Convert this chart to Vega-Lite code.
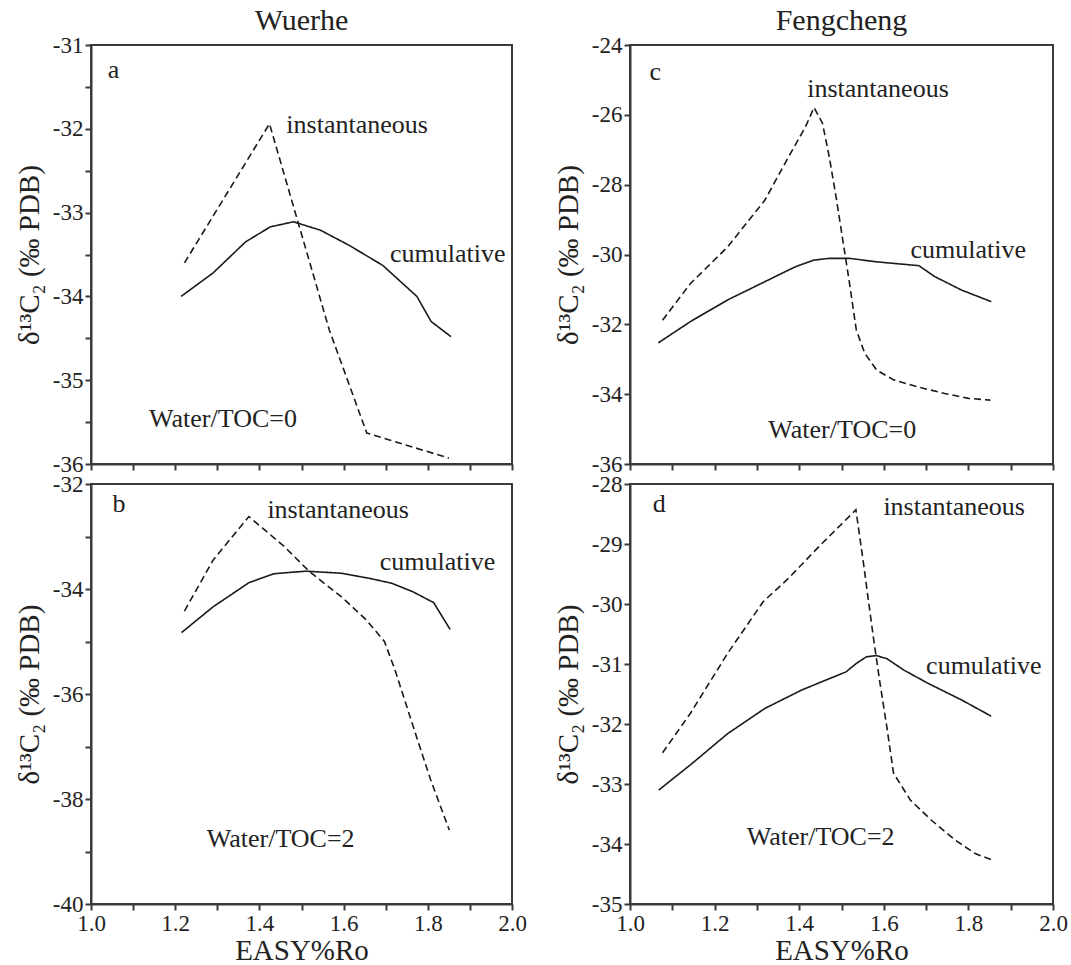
{
  "$schema": "https://vega.github.io/schema/vega-lite/v6.json",
  "background": "white",
  "padding": {"left": 14, "top": 5, "right": 0, "bottom": 0},
  "datasets": {
    "curves": [
      {"panel": "a", "series": "instantaneous", "x": 1.222, "y": -33.60},
      {"panel": "a", "series": "instantaneous", "x": 1.424, "y": -31.94},
      {"panel": "a", "series": "instantaneous", "x": 1.566, "y": -34.40},
      {"panel": "a", "series": "instantaneous", "x": 1.655, "y": -35.63},
      {"panel": "a", "series": "instantaneous", "x": 1.850, "y": -35.93},
      {"panel": "a", "series": "cumulative", "x": 1.214, "y": -34.00},
      {"panel": "a", "series": "cumulative", "x": 1.290, "y": -33.72},
      {"panel": "a", "series": "cumulative", "x": 1.367, "y": -33.35},
      {"panel": "a", "series": "cumulative", "x": 1.426, "y": -33.17},
      {"panel": "a", "series": "cumulative", "x": 1.481, "y": -33.11},
      {"panel": "a", "series": "cumulative", "x": 1.545, "y": -33.21},
      {"panel": "a", "series": "cumulative", "x": 1.613, "y": -33.39},
      {"panel": "a", "series": "cumulative", "x": 1.693, "y": -33.63},
      {"panel": "a", "series": "cumulative", "x": 1.774, "y": -34.00},
      {"panel": "a", "series": "cumulative", "x": 1.808, "y": -34.30},
      {"panel": "a", "series": "cumulative", "x": 1.855, "y": -34.48},

      {"panel": "b", "series": "instantaneous", "x": 1.222, "y": -34.42},
      {"panel": "b", "series": "instantaneous", "x": 1.290, "y": -33.45},
      {"panel": "b", "series": "instantaneous", "x": 1.375, "y": -32.62},
      {"panel": "b", "series": "instantaneous", "x": 1.459, "y": -33.19},
      {"panel": "b", "series": "instantaneous", "x": 1.519, "y": -33.67},
      {"panel": "b", "series": "instantaneous", "x": 1.595, "y": -34.15},
      {"panel": "b", "series": "instantaneous", "x": 1.654, "y": -34.59},
      {"panel": "b", "series": "instantaneous", "x": 1.697, "y": -35.00},
      {"panel": "b", "series": "instantaneous", "x": 1.722, "y": -35.54},
      {"panel": "b", "series": "instantaneous", "x": 1.773, "y": -36.81},
      {"panel": "b", "series": "instantaneous", "x": 1.807, "y": -37.64},
      {"panel": "b", "series": "instantaneous", "x": 1.851, "y": -38.59},
      {"panel": "b", "series": "cumulative", "x": 1.215, "y": -34.83},
      {"panel": "b", "series": "cumulative", "x": 1.290, "y": -34.34},
      {"panel": "b", "series": "cumulative", "x": 1.375, "y": -33.88},
      {"panel": "b", "series": "cumulative", "x": 1.434, "y": -33.71},
      {"panel": "b", "series": "cumulative", "x": 1.510, "y": -33.66},
      {"panel": "b", "series": "cumulative", "x": 1.595, "y": -33.70},
      {"panel": "b", "series": "cumulative", "x": 1.663, "y": -33.80},
      {"panel": "b", "series": "cumulative", "x": 1.714, "y": -33.89},
      {"panel": "b", "series": "cumulative", "x": 1.764, "y": -34.05},
      {"panel": "b", "series": "cumulative", "x": 1.814, "y": -34.26},
      {"panel": "b", "series": "cumulative", "x": 1.853, "y": -34.77},

      {"panel": "c", "series": "instantaneous", "x": 1.077, "y": -31.88},
      {"panel": "c", "series": "instantaneous", "x": 1.143, "y": -30.83},
      {"panel": "c", "series": "instantaneous", "x": 1.231, "y": -29.78},
      {"panel": "c", "series": "instantaneous", "x": 1.319, "y": -28.44},
      {"panel": "c", "series": "instantaneous", "x": 1.375, "y": -27.20},
      {"panel": "c", "series": "instantaneous", "x": 1.415, "y": -26.34},
      {"panel": "c", "series": "instantaneous", "x": 1.435, "y": -25.79},
      {"panel": "c", "series": "instantaneous", "x": 1.455, "y": -26.24},
      {"panel": "c", "series": "instantaneous", "x": 1.471, "y": -27.20},
      {"panel": "c", "series": "instantaneous", "x": 1.487, "y": -28.34},
      {"panel": "c", "series": "instantaneous", "x": 1.503, "y": -29.58},
      {"panel": "c", "series": "instantaneous", "x": 1.519, "y": -30.83},
      {"panel": "c", "series": "instantaneous", "x": 1.535, "y": -32.16},
      {"panel": "c", "series": "instantaneous", "x": 1.555, "y": -32.83},
      {"panel": "c", "series": "instantaneous", "x": 1.583, "y": -33.31},
      {"panel": "c", "series": "instantaneous", "x": 1.623, "y": -33.59},
      {"panel": "c", "series": "instantaneous", "x": 1.679, "y": -33.79},
      {"panel": "c", "series": "instantaneous", "x": 1.744, "y": -33.98},
      {"panel": "c", "series": "instantaneous", "x": 1.800, "y": -34.12},
      {"panel": "c", "series": "instantaneous", "x": 1.852, "y": -34.17},
      {"panel": "c", "series": "cumulative", "x": 1.067, "y": -32.53},
      {"panel": "c", "series": "cumulative", "x": 1.143, "y": -31.92},
      {"panel": "c", "series": "cumulative", "x": 1.231, "y": -31.30},
      {"panel": "c", "series": "cumulative", "x": 1.327, "y": -30.73},
      {"panel": "c", "series": "cumulative", "x": 1.391, "y": -30.35},
      {"panel": "c", "series": "cumulative", "x": 1.435, "y": -30.16},
      {"panel": "c", "series": "cumulative", "x": 1.471, "y": -30.11},
      {"panel": "c", "series": "cumulative", "x": 1.519, "y": -30.11},
      {"panel": "c", "series": "cumulative", "x": 1.583, "y": -30.21},
      {"panel": "c", "series": "cumulative", "x": 1.683, "y": -30.32},
      {"panel": "c", "series": "cumulative", "x": 1.720, "y": -30.63},
      {"panel": "c", "series": "cumulative", "x": 1.784, "y": -31.02},
      {"panel": "c", "series": "cumulative", "x": 1.854, "y": -31.35},

      {"panel": "d", "series": "instantaneous", "x": 1.077, "y": -32.48},
      {"panel": "d", "series": "instantaneous", "x": 1.143, "y": -31.82},
      {"panel": "d", "series": "instantaneous", "x": 1.231, "y": -30.82},
      {"panel": "d", "series": "instantaneous", "x": 1.315, "y": -29.96},
      {"panel": "d", "series": "instantaneous", "x": 1.375, "y": -29.57},
      {"panel": "d", "series": "instantaneous", "x": 1.447, "y": -29.04},
      {"panel": "d", "series": "instantaneous", "x": 1.534, "y": -28.43},
      {"panel": "d", "series": "instantaneous", "x": 1.551, "y": -29.27},
      {"panel": "d", "series": "instantaneous", "x": 1.575, "y": -30.54},
      {"panel": "d", "series": "instantaneous", "x": 1.591, "y": -31.32},
      {"panel": "d", "series": "instantaneous", "x": 1.607, "y": -32.04},
      {"panel": "d", "series": "instantaneous", "x": 1.623, "y": -32.82},
      {"panel": "d", "series": "instantaneous", "x": 1.663, "y": -33.27},
      {"panel": "d", "series": "instantaneous", "x": 1.712, "y": -33.60},
      {"panel": "d", "series": "instantaneous", "x": 1.768, "y": -33.93},
      {"panel": "d", "series": "instantaneous", "x": 1.816, "y": -34.16},
      {"panel": "d", "series": "instantaneous", "x": 1.854, "y": -34.26},
      {"panel": "d", "series": "cumulative", "x": 1.068, "y": -33.10},
      {"panel": "d", "series": "cumulative", "x": 1.143, "y": -32.68},
      {"panel": "d", "series": "cumulative", "x": 1.231, "y": -32.16},
      {"panel": "d", "series": "cumulative", "x": 1.319, "y": -31.74},
      {"panel": "d", "series": "cumulative", "x": 1.407, "y": -31.43},
      {"panel": "d", "series": "cumulative", "x": 1.511, "y": -31.13},
      {"panel": "d", "series": "cumulative", "x": 1.535, "y": -30.99},
      {"panel": "d", "series": "cumulative", "x": 1.559, "y": -30.88},
      {"panel": "d", "series": "cumulative", "x": 1.582, "y": -30.86},
      {"panel": "d", "series": "cumulative", "x": 1.607, "y": -30.91},
      {"panel": "d", "series": "cumulative", "x": 1.647, "y": -31.10},
      {"panel": "d", "series": "cumulative", "x": 1.704, "y": -31.32},
      {"panel": "d", "series": "cumulative", "x": 1.784, "y": -31.60},
      {"panel": "d", "series": "cumulative", "x": 1.854, "y": -31.87}
    ],
    "labels": [
      {"panel": "a", "label": "a", "x": 1.040, "y": -31.39},
      {"panel": "a", "label": "instantaneous", "x": 1.464, "y": -32.05},
      {"panel": "a", "label": "cumulative", "x": 1.710, "y": -33.59},
      {"panel": "a", "label": "Water/TOC=0", "x": 1.138, "y": -35.56},
      {"panel": "b", "label": "b", "x": 1.051, "y": -32.53},
      {"panel": "b", "label": "instantaneous", "x": 1.419, "y": -32.65},
      {"panel": "b", "label": "cumulative", "x": 1.686, "y": -33.64},
      {"panel": "b", "label": "Water/TOC=2", "x": 1.275, "y": -38.91},
      {"panel": "c", "label": "c", "x": 1.046, "y": -25.00},
      {"panel": "c", "label": "instantaneous", "x": 1.419, "y": -25.48},
      {"panel": "c", "label": "cumulative", "x": 1.663, "y": -30.11},
      {"panel": "c", "label": "Water/TOC=0", "x": 1.327, "y": -35.26},
      {"panel": "d", "label": "d", "x": 1.054, "y": -28.46},
      {"panel": "d", "label": "instantaneous", "x": 1.599, "y": -28.52},
      {"panel": "d", "label": "cumulative", "x": 1.700, "y": -31.16},
      {"panel": "d", "label": "Water/TOC=2", "x": 1.276, "y": -34.02}
    ]
  },
  "columns": 2,
  "spacing": {"row": 20, "column": 118},
  "bounds": "flush",
  "concat": [
    {
      "title": {"text": "Wuerhe", "offset": -2},
      "width": 421, "height": 419,
      "layer": [
        {
          "data": {"name": "curves"},
          "transform": [{"filter": "datum.panel === 'a'"}],
          "mark": {"type": "line", "color": "#1a1a1a", "strokeWidth": 1.6},
          "encoding": {
            "x": {"field": "x", "type": "quantitative", "scale": {"domain": [1, 2], "nice": false, "zero": false},
              "axis": {"values": [1.0, 1.1, 1.2, 1.3, 1.4, 1.5, 1.6, 1.7, 1.8, 1.9, 2.0], "labels": false, "title": null}},
            "y": {"field": "y", "type": "quantitative", "scale": {"domain": [-36, -31], "nice": false, "zero": false},
              "axis": {"values": [-36, -35.5, -35, -34.5, -34, -33.5, -33, -32.5, -32, -31.5, -31],
                "labelExpr": "datum.value % 1 === 0 ? '-' + format(abs(datum.value), 'd') : ''",
                "title": "δ¹³C₂ (‰ PDB)"}},
            "detail": {"field": "series"},
            "strokeDash": {"field": "series", "type": "nominal", "scale": {"domain": ["cumulative", "instantaneous"], "range": [[1, 0], [7, 4]]}, "legend": null}
          }
        },
        {
          "data": {"name": "labels"},
          "transform": [{"filter": "datum.panel === 'a'"}],
          "mark": {"type": "text", "align": "left", "baseline": "alphabetic", "fontSize": 26, "color": "#222"},
          "encoding": {
            "x": {"field": "x", "type": "quantitative"},
            "y": {"field": "y", "type": "quantitative"},
            "text": {"field": "label"}
          }
        }
      ]
    },
    {
      "title": {"text": "Fengcheng", "offset": -2},
      "width": 423, "height": 419,
      "layer": [
        {
          "data": {"name": "curves"},
          "transform": [{"filter": "datum.panel === 'c'"}],
          "mark": {"type": "line", "color": "#1a1a1a", "strokeWidth": 1.6},
          "encoding": {
            "x": {"field": "x", "type": "quantitative", "scale": {"domain": [1, 2], "nice": false, "zero": false},
              "axis": {"values": [1.0, 1.1, 1.2, 1.3, 1.4, 1.5, 1.6, 1.7, 1.8, 1.9, 2.0], "labels": false, "title": null}},
            "y": {"field": "y", "type": "quantitative", "scale": {"domain": [-36, -24], "nice": false, "zero": false},
              "axis": {"values": [-36, -35, -34, -33, -32, -31, -30, -29, -28, -27, -26, -25, -24],
                "labelExpr": "datum.value % 2 === 0 ? '-' + format(abs(datum.value), 'd') : ''",
                "title": "δ¹³C₂ (‰ PDB)"}},
            "detail": {"field": "series"},
            "strokeDash": {"field": "series", "type": "nominal", "scale": {"domain": ["cumulative", "instantaneous"], "range": [[1, 0], [7, 4]]}, "legend": null}
          }
        },
        {
          "data": {"name": "labels"},
          "transform": [{"filter": "datum.panel === 'c'"}],
          "mark": {"type": "text", "align": "left", "baseline": "alphabetic", "fontSize": 26, "color": "#222"},
          "encoding": {
            "x": {"field": "x", "type": "quantitative"},
            "y": {"field": "y", "type": "quantitative"},
            "text": {"field": "label"}
          }
        }
      ]
    },
    {
      "width": 421, "height": 420,
      "layer": [
        {
          "data": {"name": "curves"},
          "transform": [{"filter": "datum.panel === 'b'"}],
          "mark": {"type": "line", "color": "#1a1a1a", "strokeWidth": 1.6},
          "encoding": {
            "x": {"field": "x", "type": "quantitative", "scale": {"domain": [1, 2], "nice": false, "zero": false},
              "axis": {"values": [1.0, 1.1, 1.2, 1.3, 1.4, 1.5, 1.6, 1.7, 1.8, 1.9, 2.0],
                "labelExpr": "round(datum.value * 10) % 2 === 0 ? format(datum.value, '.1f') : ''",
                "title": "EASY%Ro"}},
            "y": {"field": "y", "type": "quantitative", "scale": {"domain": [-40, -32], "nice": false, "zero": false},
              "axis": {"values": [-40, -39, -38, -37, -36, -35, -34, -33, -32],
                "labelExpr": "datum.value % 2 === 0 ? '-' + format(abs(datum.value), 'd') : ''",
                "title": "δ¹³C₂ (‰ PDB)"}},
            "detail": {"field": "series"},
            "strokeDash": {"field": "series", "type": "nominal", "scale": {"domain": ["cumulative", "instantaneous"], "range": [[1, 0], [7, 4]]}, "legend": null}
          }
        },
        {
          "data": {"name": "labels"},
          "transform": [{"filter": "datum.panel === 'b'"}],
          "mark": {"type": "text", "align": "left", "baseline": "alphabetic", "fontSize": 26, "color": "#222"},
          "encoding": {
            "x": {"field": "x", "type": "quantitative"},
            "y": {"field": "y", "type": "quantitative"},
            "text": {"field": "label"}
          }
        }
      ]
    },
    {
      "width": 423, "height": 420,
      "layer": [
        {
          "data": {"name": "curves"},
          "transform": [{"filter": "datum.panel === 'd'"}],
          "mark": {"type": "line", "color": "#1a1a1a", "strokeWidth": 1.6},
          "encoding": {
            "x": {"field": "x", "type": "quantitative", "scale": {"domain": [1, 2], "nice": false, "zero": false},
              "axis": {"values": [1.0, 1.1, 1.2, 1.3, 1.4, 1.5, 1.6, 1.7, 1.8, 1.9, 2.0],
                "labelExpr": "round(datum.value * 10) % 2 === 0 ? format(datum.value, '.1f') : ''",
                "title": "EASY%Ro"}},
            "y": {"field": "y", "type": "quantitative", "scale": {"domain": [-35, -28], "nice": false, "zero": false},
              "axis": {"values": [-35, -34.5, -34, -33.5, -33, -32.5, -32, -31.5, -31, -30.5, -30, -29.5, -29, -28.5, -28],
                "labelExpr": "datum.value % 1 === 0 ? '-' + format(abs(datum.value), 'd') : ''",
                "title": "δ¹³C₂ (‰ PDB)"}},
            "detail": {"field": "series"},
            "strokeDash": {"field": "series", "type": "nominal", "scale": {"domain": ["cumulative", "instantaneous"], "range": [[1, 0], [7, 4]]}, "legend": null}
          }
        },
        {
          "data": {"name": "labels"},
          "transform": [{"filter": "datum.panel === 'd'"}],
          "mark": {"type": "text", "align": "left", "baseline": "alphabetic", "fontSize": 26, "color": "#222"},
          "encoding": {
            "x": {"field": "x", "type": "quantitative"},
            "y": {"field": "y", "type": "quantitative"},
            "text": {"field": "label"}
          }
        }
      ]
    }
  ],
  "config": {
    "font": "'Liberation Serif', 'Times New Roman', serif",
    "text": {"font": "'Liberation Serif', 'Times New Roman', serif"},
    "view": {"stroke": "#3a3a3a", "strokeWidth": 2},
    "axis": {
      "grid": false,
      "domainColor": "#3a3a3a", "domainWidth": 2,
      "tickColor": "#3a3a3a", "tickWidth": 2, "tickSize": 6,
      "labelFont": "'Liberation Serif', 'Times New Roman', serif", "labelFontSize": 23, "labelColor": "#222", "labelPadding": 2,
      "labelOverlap": false, "labelFlush": false,
      "titleFont": "'Liberation Serif', 'Times New Roman', serif", "titleFontSize": 29, "titleFontWeight": "normal", "titleColor": "#222"
    },
    "axisY": {"titlePadding": 8},
    "axisX": {"titlePadding": 1},
    "title": {"font": "'Liberation Serif', 'Times New Roman', serif", "fontSize": 30, "fontWeight": "normal", "color": "#222", "anchor": "middle"}
  }
}
